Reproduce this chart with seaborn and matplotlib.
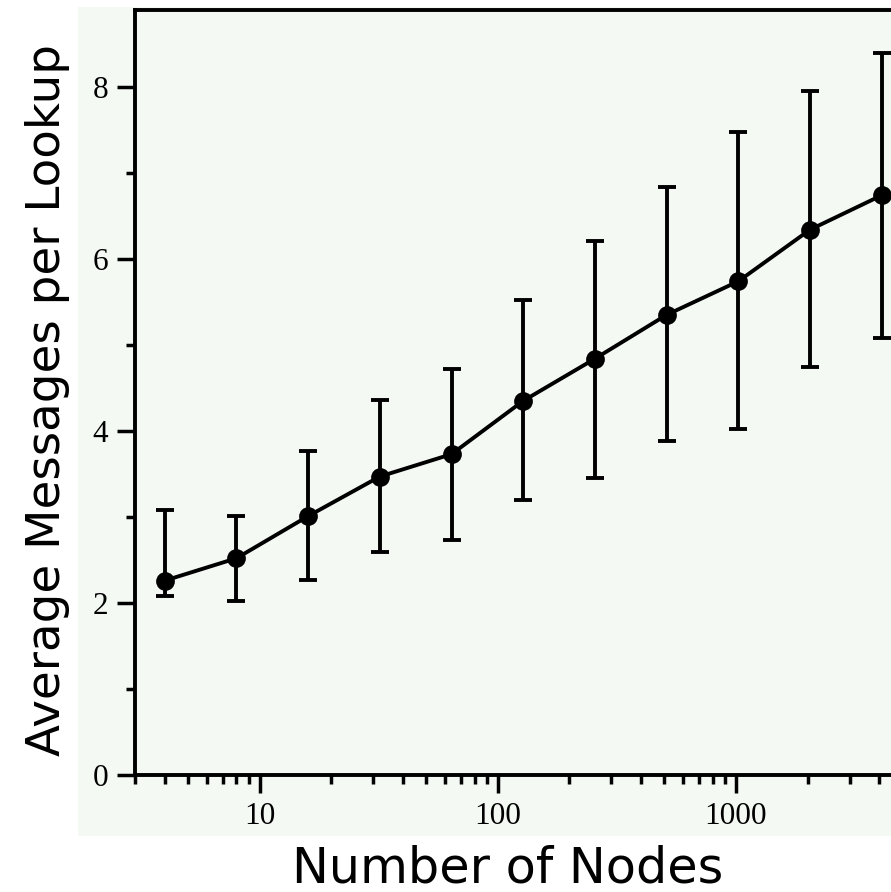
import seaborn as sns
import numpy as np
import pandas as pd
import matplotlib
matplotlib.use("Agg")
import matplotlib.pyplot as plt
from matplotlib.patches import Rectangle
from matplotlib.ticker import FixedLocator, NullFormatter

sns.set_theme(style="ticks")

# values
nodes = [4, 8, 16, 32, 64, 128, 256, 512, 1024, 2048, 4096]
avg_msgs = [2.26, 2.52, 3.01, 3.47, 3.73, 4.35, 4.84, 5.35, 5.74, 6.34, 6.74]
err_low = [2.08, 2.02, 2.27, 2.59, 2.73, 3.20, 3.45, 3.88, 4.02, 4.74, 5.08]
err_high = [3.08, 3.01, 3.77, 4.36, 4.72, 5.52, 6.21, 6.84, 7.47, 7.95, 8.40]

x_ticks = [10, 100, 1000]
x_labels = ["10", "100", "1000"]
y_ticks = [0, 2, 4, 6, 8]
y_labels = ["0", "2", "4", "6", "8"]

df = pd.DataFrame({"nodes": nodes, "msgs": avg_msgs})

bg = "#f4f9f4"
fig = plt.figure(figsize=(8.91, 8.92), dpi=100)
fig.patch.set_facecolor("white")
# light panel behind axes and tick labels
fig.patches.append(Rectangle((78 / 891, 1 - 836 / 892), 1 - 78 / 891, (836 - 7) / 892,
                             transform=fig.transFigure, facecolor=bg,
                             edgecolor="none", zorder=-1))

ax = fig.add_axes([135 / 891, 1 - 775 / 892, 1 - 135 / 891, (775 - 9.5) / 892])
ax.set_facecolor(bg)

yerr = np.array([np.array(avg_msgs) - np.array(err_low),
                 np.array(err_high) - np.array(avg_msgs)])
ax.errorbar(nodes, avg_msgs, yerr=yerr, fmt="none", ecolor="black",
            elinewidth=2.8, capsize=6.5, capthick=2.8, zorder=2)
sns.lineplot(data=df, x="nodes", y="msgs", ax=ax, color="black",
             linewidth=2.8, marker="o", markersize=13.5, markeredgewidth=0,
             zorder=3)

ax.set_xscale("log")
ax.set_xlim(3, 4480)
ax.set_ylim(0, 8.9)

ax.xaxis.set_major_locator(FixedLocator(x_ticks))
ax.set_xticklabels(x_labels)
minors_x = [m * d for d in [1, 10, 100, 1000] for m in range(2, 10) if 3 <= m * d <= 4480]
ax.xaxis.set_minor_locator(FixedLocator(minors_x))
ax.xaxis.set_minor_formatter(NullFormatter())

ax.yaxis.set_major_locator(FixedLocator(y_ticks))
ax.set_yticklabels(y_labels)
ax.yaxis.set_minor_locator(FixedLocator([1, 3, 5, 7]))

ax.tick_params(which="major", direction="out", length=13, width=2.5, pad=6.5,
               colors="black", labelsize=22.5)
ax.tick_params(which="minor", direction="out", length=6.5, width=2.5, colors="black")
ax.tick_params(top=False, right=False, which="both")
for lab in ax.get_xticklabels() + ax.get_yticklabels():
    lab.set_fontfamily("Liberation Serif")

for side in ["left", "bottom", "top"]:
    ax.spines[side].set_linewidth(2.8)
    ax.spines[side].set_color("black")
ax.spines["right"].set_visible(False)

ax.set_xlabel("Number of Nodes", fontsize=35.5, family="DejaVu Sans", color="black")
ax.set_ylabel("Average Messages per Lookup", fontsize=33.7, family="DejaVu Sans",
              color="black")
ax.xaxis.set_label_coords(0.493, -0.091)
ax.yaxis.set_label_coords(-0.086, 0.49)
ax.xaxis.label.set_va("top")

fig.savefig("out.png", dpi=100, facecolor="white")
